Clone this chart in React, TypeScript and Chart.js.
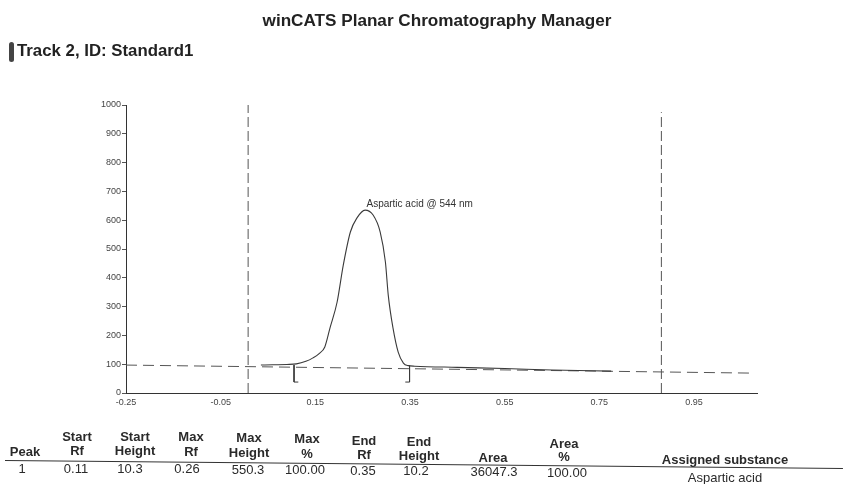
import React, { useEffect, useRef } from "react";
import { Chart, registerables } from "chart.js";

Chart.register(...registerables);

// ---- data ----
const curveRf = [0.035, 0.06, 0.09, 0.11, 0.13, 0.145, 0.158, 0.17, 0.181, 0.196, 0.209, 0.224, 0.238, 0.255, 0.272, 0.287, 0.298, 0.304, 0.314, 0.325, 0.336, 0.346, 0.36, 0.45, 0.55, 0.65, 0.775];
const curveHeight = [97, 98, 99, 101, 110, 122, 137, 160, 226, 316, 444, 559, 608, 635, 618, 559, 455, 340, 226, 142, 104, 95, 93, 89, 85, 80, 76];

const baselineRf = [-0.25, 1.076];
const baselineHeight = [97, 69];

const frontLinesRf = [0.008, 0.881];
const frontLinesTop = [1000, 975];

const startMarkRf = [0.105, 0.105, 0.114];
const startMarkHeight = [97, 38, 38];
const endMarkRf = [0.349, 0.349, 0.340];
const endMarkHeight = [95, 38, 38];

const peakLabel = "Aspartic acid @ 544 nm";
const peakLabelRf = 0.258;
const peakLabelHeight = 655;

const xTickValues = [-0.25, -0.05, 0.15, 0.35, 0.55, 0.75, 0.95];
const xTickLabels = ["-0.25", "-0.05", "0.15", "0.35", "0.55", "0.75", "0.95"];

const title = "winCATS Planar Chromatography Manager";
const trackTitle = "Track 2, ID: Standard1";

const headerLine1 = ["", "Start", "Start", "Max", "Max", "Max", "End", "End", "", "Area", ""];
const headerLine2 = ["Peak", "Rf", "Height", "Rf", "Height", "%", "Rf", "Height", "Area", "%", "Assigned substance"];
const rowValues = ["1", "0.11", "10.3", "0.26", "550.3", "100.00", "0.35", "10.2", "36047.3", "100.00", "Aspartic acid"];

// ---- layout (styles only) ----
const colX = [25, 77, 135, 191, 249, 307, 364, 419, 493, 564, 725];
const valX = [22, 76, 130, 187, 248, 305, 363, 416, 494, 567, 725];
const h1Y = [437, 437, 437, 437, 438, 439, 441, 442, 0, 444, 0];
const h2Y = [452, 451, 451, 452, 453, 454, 455, 456, 458, 457, 460];
const vY = [469, 469, 469, 469, 470, 470, 471, 471, 472, 473, 478];

const FONT = "'Liberation Sans', Arial, Helvetica, sans-serif";

export default function App() {
  const ref = useRef<HTMLCanvasElement | null>(null);

  useEffect(() => {
    if (!ref.current) return;
    const pts = (xs: number[], ys: number[]) => xs.map((x, i) => ({ x, y: ys[i] }));
    const lineColor = "#3a3a3a";
    const dashColor = "#555";

    const datasets: any[] = [
      {
        data: pts(curveRf, curveHeight),
        borderColor: lineColor,
        borderWidth: 1.1,
        cubicInterpolationMode: "monotone",
      },
      {
        data: pts(baselineRf, baselineHeight),
        borderColor: dashColor,
        borderWidth: 1,
        borderDash: [11, 6],
      },
      ...frontLinesRf.map((rf, i) => ({
        data: [{ x: rf, y: 0 }, { x: rf, y: frontLinesTop[i] }],
        borderColor: dashColor,
        borderWidth: 1,
        borderDash: [10, 4],
      })),
      {
        data: pts(startMarkRf, startMarkHeight),
        borderColor: lineColor,
        borderWidth: 1,
      },
      {
        data: pts(endMarkRf, endMarkHeight),
        borderColor: lineColor,
        borderWidth: 1,
      },
    ].map((d) => ({ ...d, showLine: true, pointRadius: 0, fill: false }));

    const labelPlugin = {
      id: "peakLabel",
      afterDatasetsDraw(chart: any) {
        const { ctx, scales } = chart;
        ctx.save();
        ctx.font = `10px ${FONT}`;
        ctx.fillStyle = "#333";
        ctx.textBaseline = "middle";
        ctx.textAlign = "left";
        ctx.fillText(peakLabel, scales.x.getPixelForValue(peakLabelRf), scales.y.getPixelForValue(peakLabelHeight));
        ctx.restore();
      },
    };

    const chart = new Chart(ref.current, {
      type: "scatter",
      data: { datasets },
      plugins: [labelPlugin],
      options: {
        animation: false,
        responsive: false,
        maintainAspectRatio: false,
        layout: { padding: { top: 105, right: 90, left: 0, bottom: 0 } },
        plugins: { legend: { display: false }, tooltip: { enabled: false }, title: { display: false } },
        scales: {
          x: {
            type: "linear",
            min: -0.25,
            max: 1.083,
            afterBuildTicks: (scale: any) => {
              scale.ticks = xTickValues.map((v) => ({ value: v }));
            },
            afterFit: (scale: any) => {
              scale.height = 91;
            },
            grid: { display: true, drawOnChartArea: false, drawTicks: false },
            border: { display: true, color: "#333", width: 1 },
            ticks: {
              padding: 4,
              autoSkip: false,
              maxRotation: 0,
              color: "#444",
              font: { family: FONT, size: 9 },
              callback: (_v: any, i: number) => xTickLabels[i],
            },
          },
          y: {
            type: "linear",
            min: 0,
            max: 1000,
            afterFit: (scale: any) => {
              scale.width = 126;
            },
            grid: { display: true, drawOnChartArea: false, drawTicks: true, tickLength: 4, color: "#555" },
            border: { display: true, color: "#333", width: 1 },
            ticks: {
              stepSize: 100,
              padding: 1,
              color: "#444",
              font: { family: FONT, size: 9 },
              callback: (v: any) => String(v),
            },
          },
        },
      },
    });
    return () => chart.destroy();
  }, []);

  const txt = (s: string, x: number, y: number, bold: boolean, key: string, size = 12) => (
    <div
      key={key}
      style={{
        position: "absolute",
        left: x - 100,
        top: y - size * 0.6,
        width: 200,
        textAlign: "center",
        fontFamily: FONT,
        fontWeight: bold ? "bold" : "normal",
        fontSize: size,
        lineHeight: `${Math.round(size * 1.2)}px`,
        color: "#2a2a2a",
        whiteSpace: "nowrap",
      }}
    >
      {s}
    </div>
  );

  return (
    <div style={{ position: "absolute", left: 0, top: 0, width: 847, height: 484, background: "#fff", overflow: "hidden" }}>
      <canvas ref={ref} width={847} height={484} style={{ position: "absolute", left: 0, top: 0, width: 847, height: 484 }} />
      <div
        style={{
          position: "absolute",
          left: 0,
          width: 874,
          top: 12,
          textAlign: "center",
          fontFamily: FONT,
          fontWeight: "bold",
          fontSize: 16,
          color: "#222",
          transform: "scaleX(1.07)",
          transformOrigin: "437px 0",
        }}
      >
        {title}
      </div>
      <div style={{ position: "absolute", left: 9, top: 42, width: 5, height: 20, borderRadius: 3, background: "#444" }} />
      <div
        style={{
          position: "absolute",
          left: 17,
          top: 42,
          fontFamily: FONT,
          fontWeight: "bold",
          fontSize: 16,
          color: "#222",
          whiteSpace: "nowrap",
          transform: "scaleX(1.05)",
          transformOrigin: "0 0",
        }}
      >
        {trackTitle}
      </div>
      {headerLine1.map((s, i) => (s ? txt(s, colX[i], h1Y[i], true, `h1-${i}`, 13) : null))}
      {headerLine2.map((s, i) => txt(s, colX[i], h2Y[i], true, `h2-${i}`, 13))}
      {rowValues.map((s, i) => txt(s, valX[i], vY[i], false, `v-${i}`, 13))}
      <div
        style={{
          position: "absolute",
          left: 5,
          top: 460,
          width: 838,
          height: 0,
          borderTop: "1.5px solid #333",
          transformOrigin: "0 0",
          transform: "rotate(0.55deg)",
        }}
      />
    </div>
  );
}
